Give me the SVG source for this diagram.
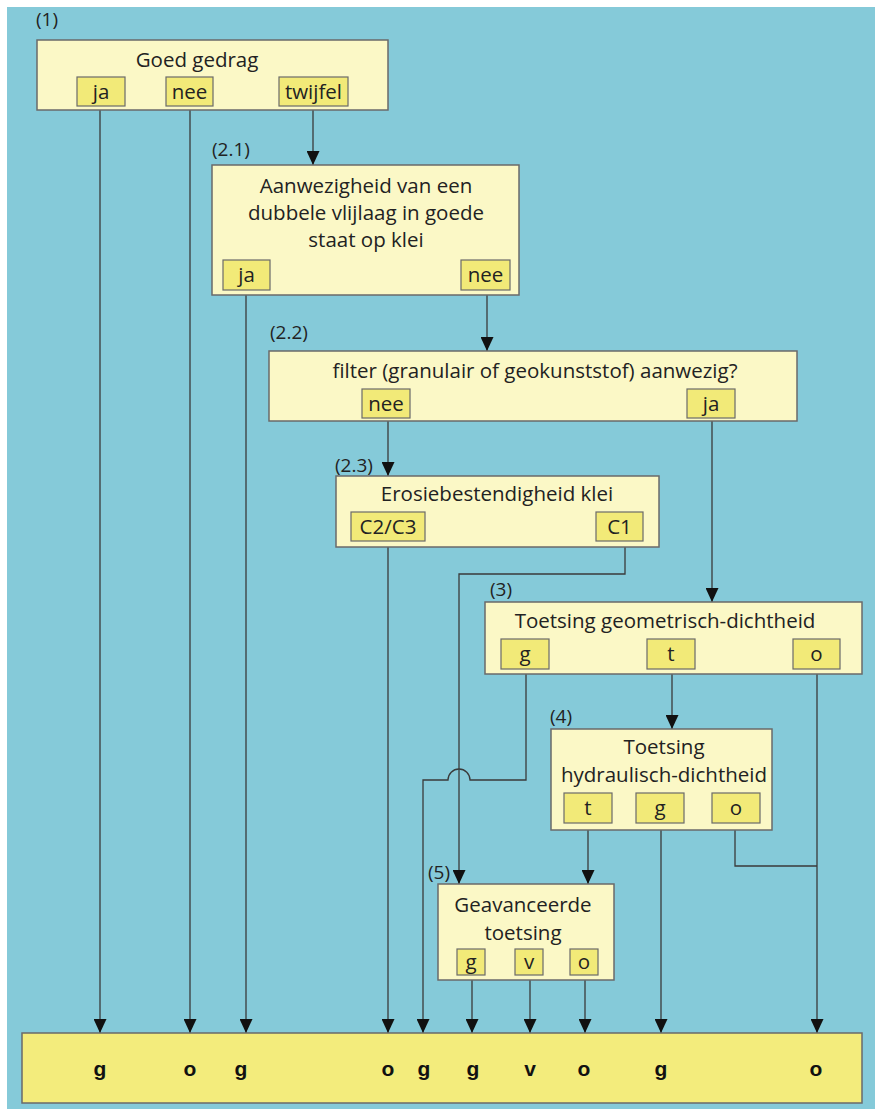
<svg xmlns="http://www.w3.org/2000/svg" width="875" height="1109" viewBox="0 0 875 1109">
<defs>
<marker id="ah" markerWidth="14" markerHeight="13" refX="14" refY="6.5" orient="auto" markerUnits="userSpaceOnUse" viewBox="0 0 14 13">
<path d="M0,0 L14,6.5 L0,13 Z" fill="#111"/>
</marker>
<style>
.bg{fill:#85cad9}
.node{fill:#fbf8c6;stroke:#6a6a6a;stroke-width:1.5}
.opt{fill:#f2ea78;stroke:#6a6a6a;stroke-width:1.2}
.res{fill:#f3ec7c;stroke:#6a6a6a;stroke-width:1.5}
.t{font-family:"Open Sans",Lato,sans-serif;font-size:20.5px;fill:#222;text-anchor:middle}
.lab{font-family:"Open Sans",Lato,sans-serif;font-size:19px;fill:#222}
.r{font-family:"Liberation Sans",Arial,sans-serif;font-weight:bold;font-size:21px;fill:#111;text-anchor:middle}
.c{fill:none;stroke:#3a3a3a;stroke-width:1.3}
.ca{fill:none;stroke:#3a3a3a;stroke-width:1.3;marker-end:url(#ah)}
</style>
</defs>
<rect x="7" y="7" width="868" height="1102" class="bg"/>

<g id="connectors">
<path class="ca" d="M100,110 V1033"/>
<path class="ca" d="M190,110 V1033"/>
<path class="ca" d="M313,110 V165"/>
<path class="ca" d="M246,295 V1033"/>
<path class="ca" d="M487,295 V351"/>
<path class="ca" d="M388,421 V476"/>
<path class="ca" d="M712,421 V602"/>
<path class="ca" d="M388,547 V1033"/>
<path class="ca" d="M625,547 V574 H459 V884"/>
<path class="ca" d="M526,674 V780 H470 A11,11 0 0 0 448,780 H423 V1033"/>
<path class="ca" d="M672,674 V729"/>
<path class="ca" d="M817,674 V1033"/>
<path class="ca" d="M588,830 V884"/>
<path class="ca" d="M661,830 V1033"/>
<path class="c" d="M735,830 V866 H817"/>
<path class="ca" d="M472,980 V1033"/>
<path class="ca" d="M530,980 V1033"/>
<path class="ca" d="M585,980 V1033"/>
</g>

<g id="n1">
<text class="lab" x="36" y="26">(1)</text>
<rect class="node" x="37" y="40" width="351" height="70"/>
<text class="t" x="197" y="67">Goed gedrag</text>
<rect class="opt" x="77" y="77" width="48" height="29"/>
<text class="t" x="101" y="99">ja</text>
<rect class="opt" x="166" y="77" width="47" height="29"/>
<text class="t" x="189.5" y="99">nee</text>
<rect class="opt" x="279" y="77" width="69" height="29"/>
<text class="t" x="313.5" y="99">twijfel</text>
</g>

<g id="n21">
<text class="lab" x="212" y="156">(2.1)</text>
<rect class="node" x="212" y="165" width="307" height="130"/>
<text class="t" x="366" y="193">Aanwezigheid van een</text>
<text class="t" x="366" y="220">dubbele vlijlaag in goede</text>
<text class="t" x="366" y="247">staat op klei</text>
<rect class="opt" x="223" y="260" width="47" height="30"/>
<text class="t" x="246.5" y="282">ja</text>
<rect class="opt" x="461" y="260" width="49" height="30"/>
<text class="t" x="485.5" y="282">nee</text>
</g>

<g id="n22">
<text class="lab" x="270" y="339">(2.2)</text>
<rect class="node" x="269" y="351" width="528" height="70"/>
<text class="t" x="535" y="378">filter (granulair of geokunststof) aanwezig?</text>
<rect class="opt" x="362" y="389" width="48" height="29"/>
<text class="t" x="386" y="411">nee</text>
<rect class="opt" x="687" y="389" width="48" height="29"/>
<text class="t" x="711" y="411">ja</text>
</g>

<g id="n23">
<text class="lab" x="335" y="472">(2.3)</text>
<rect class="node" x="336" y="476" width="323" height="71"/>
<text class="t" x="497" y="501">Erosiebestendigheid klei</text>
<rect class="opt" x="351" y="512" width="74" height="29"/>
<text class="t" x="388" y="534">C2/C3</text>
<rect class="opt" x="596" y="512" width="47" height="29"/>
<text class="t" x="619.5" y="534">C1</text>
</g>

<g id="n3">
<text class="lab" x="490" y="596">(3)</text>
<rect class="node" x="485" y="602" width="377" height="72"/>
<text class="t" x="665" y="628">Toetsing geometrisch-dichtheid</text>
<rect class="opt" x="501" y="639" width="48" height="30"/>
<text class="t" x="525" y="661">g</text>
<rect class="opt" x="647" y="639" width="48" height="30"/>
<text class="t" x="671" y="661">t</text>
<rect class="opt" x="793" y="639" width="47" height="30"/>
<text class="t" x="816.5" y="661">o</text>
</g>

<g id="n4">
<text class="lab" x="550" y="723">(4)</text>
<rect class="node" x="551" y="729" width="221" height="101"/>
<text class="t" x="664" y="754">Toetsing</text>
<text class="t" x="664" y="782">hydraulisch-dichtheid</text>
<rect class="opt" x="564" y="793" width="48" height="30"/>
<text class="t" x="588" y="815">t</text>
<rect class="opt" x="636" y="793" width="48" height="30"/>
<text class="t" x="660" y="815">g</text>
<rect class="opt" x="712" y="793" width="48" height="30"/>
<text class="t" x="736" y="815">o</text>
</g>

<g id="n5">
<text class="lab" x="428" y="879">(5)</text>
<rect class="node" x="438" y="884" width="176" height="96"/>
<text class="t" x="523" y="912">Geavanceerde</text>
<text class="t" x="523" y="940">toetsing</text>
<rect class="opt" x="457" y="949" width="28" height="26"/>
<text class="t" x="471" y="969">g</text>
<rect class="opt" x="515" y="949" width="28" height="26"/>
<text class="t" x="529" y="969">v</text>
<rect class="opt" x="570" y="949" width="28" height="26"/>
<text class="t" x="584" y="969">o</text>
</g>

<g id="result">
<rect class="res" x="22" y="1033" width="840" height="70"/>
<text class="r" x="100" y="1076">g</text>
<text class="r" x="190" y="1076">o</text>
<text class="r" x="241" y="1076">g</text>
<text class="r" x="388" y="1076">o</text>
<text class="r" x="424" y="1076">g</text>
<text class="r" x="473" y="1076">g</text>
<text class="r" x="530" y="1076">v</text>
<text class="r" x="584" y="1076">o</text>
<text class="r" x="661" y="1076">g</text>
<text class="r" x="816" y="1076">o</text>
</g>
</svg>
